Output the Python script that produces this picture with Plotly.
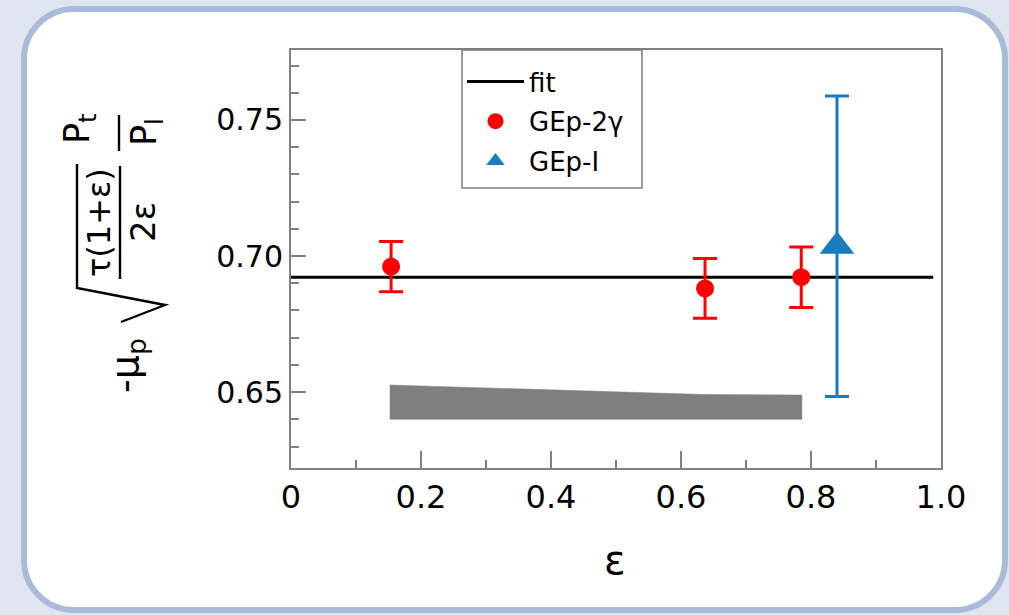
import plotly.graph_objects as go

# ---------------- data ----------------
gep2g_eps = [0.154, 0.637, 0.785]
gep2g_val = [0.6961, 0.6881, 0.6922]
gep2g_err = [0.0092, 0.0110, 0.0111]

gepi_eps = [0.840]
gepi_val = [0.7036]
gepi_err = [0.0552]

fit_eps = [0.0, 0.988]
fit_val = [0.6922, 0.6922]

band_eps = [0.152, 0.637, 0.786]
band_top = [0.6526, 0.6491, 0.6489]
band_bottom = [0.6400, 0.6400, 0.6400]

x_tick_vals = [0, 0.2, 0.4, 0.6, 0.8, 1.0]
x_tick_labels = ["0", "0.2", "0.4", "0.6", "0.8", "1.0"]

# ---------------- geometry ----------------
W, H = 1009, 615
ML, MR, MT, MB = 291, 68, 50, 147
PW, PH = W - ML - MR, H - MT - MB
XR = [0.0, 1.0]
YR = [0.6221, 0.7757]

FONT = "DejaVu Sans"
AX = "#808080"
RED = "#ff0000"
BLUE = "#1a7cc0"


def px(x):
    return (x - ML) / PW


def py(y):
    return (H - MB - y) / PH


fig = go.Figure()

# systematic band
fig.add_trace(go.Scatter(
    x=band_eps + band_eps[::-1],
    y=band_top + band_bottom[::-1],
    fill="toself", fillcolor="#7f7f7f", mode="lines",
    line=dict(color="#7f7f7f", width=0.5),
    showlegend=False, hoverinfo="skip"))

fig.add_trace(go.Scatter(
    x=fit_eps, y=fit_val, mode="lines", name="fit",
    line=dict(color="black", width=3), legendgroup="a"))

fig.add_trace(go.Scatter(
    x=gep2g_eps, y=gep2g_val, mode="markers", name="GEp-2γ",
    marker=dict(color=RED, size=18, symbol="circle"),
    error_y=dict(type="data", array=gep2g_err, color=RED,
                 thickness=3, width=12),
    legendgroup="b"))

fig.add_trace(go.Scatter(
    x=gepi_eps, y=gepi_val, mode="markers", name="GEp-I",
    marker=dict(color=BLUE, size=30, symbol="triangle-up"),
    error_y=dict(type="data", array=gepi_err, color=BLUE,
                 thickness=3, width=12),
    legendgroup="c"))

# ---------------- background card ----------------
x0, x1, y0, y1, r = 24, 1005, 9, 610, 50
k = 0.5523 * r


def P(x, y):
    return f"{px(x):.5f},{py(y):.5f}"


card = (f"M {P(x0 + r, y0)} L {P(x1 - r, y0)} "
        f"C {P(x1 - r + k, y0)} {P(x1, y0 + r - k)} {P(x1, y0 + r)} "
        f"L {P(x1, y1 - r)} "
        f"C {P(x1, y1 - r + k)} {P(x1 - r + k, y1)} {P(x1 - r, y1)} "
        f"L {P(x0 + r, y1)} "
        f"C {P(x0 + r - k, y1)} {P(x0, y1 - r + k)} {P(x0, y1 - r)} "
        f"L {P(x0, y0 + r)} "
        f"C {P(x0, y0 + r - k)} {P(x0 + r - k, y0)} {P(x0 + r, y0)} Z")

shapes = [dict(type="path", xref="paper", yref="paper", path=card,
               fillcolor="white", line=dict(color="#a9bbd8", width=6),
               layer="below")]

# legend frame
shapes.append(dict(type="rect", xref="paper", yref="paper",
                   x0=px(462), x1=px(642), y0=py(188), y1=py(50),
                   fillcolor="white", line=dict(color=AX, width=1.5),
                   layer="above"))

# radical sign and fraction bars of the y-axis title
rad = f"M {P(121, 322)} L {P(165, 305)} L {P(77, 288)} L {P(77, 164)}"
shapes.append(dict(type="path", xref="paper", yref="paper", path=rad,
                   line=dict(color="black", width=2.4), layer="above"))
shapes.append(dict(type="line", xref="paper", yref="paper",
                   x0=px(120), x1=px(120), y0=py(166), y1=py(279),
                   line=dict(color="black", width=2.4)))
shapes.append(dict(type="line", xref="paper", yref="paper",
                   x0=px(119), x1=px(119), y0=py(115), y1=py(151),
                   line=dict(color="black", width=2.4)))

ann = []


def rot_text(t, x, y, size):
    ann.append(dict(text=t, x=px(x), y=py(y), xref="paper", yref="paper",
                    showarrow=False, textangle=-90, xanchor="center",
                    yanchor="middle", font=dict(family=FONT, size=size,
                                                color="black")))


rot_text("-μ<sub>p</sub>", 127, 366, 38)
rot_text("τ(1+ε)", 99, 222, 32)
rot_text("2ε", 143, 222, 34)
rot_text("P<sub>t</sub>", 80, 128, 35)
rot_text("P<sub>l</sub>", 146, 132, 35)

ann.append(dict(text="ε", x=px(615), y=py(560), xref="paper", yref="paper",
                showarrow=False, xanchor="center", yanchor="middle",
                font=dict(family=FONT, size=40, color="black")))

fig.update_layout(
    width=W, height=H,
    margin=dict(l=ML, r=MR, t=MT, b=MB, pad=0),
    paper_bgcolor="#dfe6ef",
    plot_bgcolor="rgba(0,0,0,0)",
    shapes=shapes, annotations=ann,
    font=dict(family=FONT, color="black"),
    legend=dict(x=px(462), y=py(58), xanchor="left", yanchor="top",
                bgcolor="rgba(0,0,0,0)", borderwidth=0,
                font=dict(family=FONT, size=26, color="black"),
                itemwidth=57, tracegroupgap=3, traceorder="grouped"),
    xaxis=dict(range=XR, tickmode="array", tickvals=x_tick_vals,
               ticktext=x_tick_labels, ticks="inside", ticklen=17,
               tickwidth=1.5, tickcolor=AX, showline=True, linecolor=AX,
               linewidth=2, mirror=True, showgrid=False, zeroline=False,
               tickfont=dict(family=FONT, size=32),
               minor=dict(ticks="inside", ticklen=8, tickwidth=1.5,
                          tickcolor=AX, tickmode="linear", tick0=0,
                          dtick=0.1, showgrid=False)),
    yaxis=dict(range=YR, tickmode="linear", tick0=0.65, dtick=0.05,
               tickformat=".2f", ticks="inside", ticklen=15,
               tickwidth=1.5, tickcolor=AX, showline=True, linecolor=AX,
               linewidth=2, mirror=True, showgrid=False, zeroline=False,
               tickfont=dict(family=FONT, size=30),
               minor=dict(ticks="inside", ticklen=8, tickwidth=1.5,
                          tickcolor=AX, tickmode="linear", tick0=0.65,
                          dtick=0.01, showgrid=False)),
)

fig.write_html("out.html")
